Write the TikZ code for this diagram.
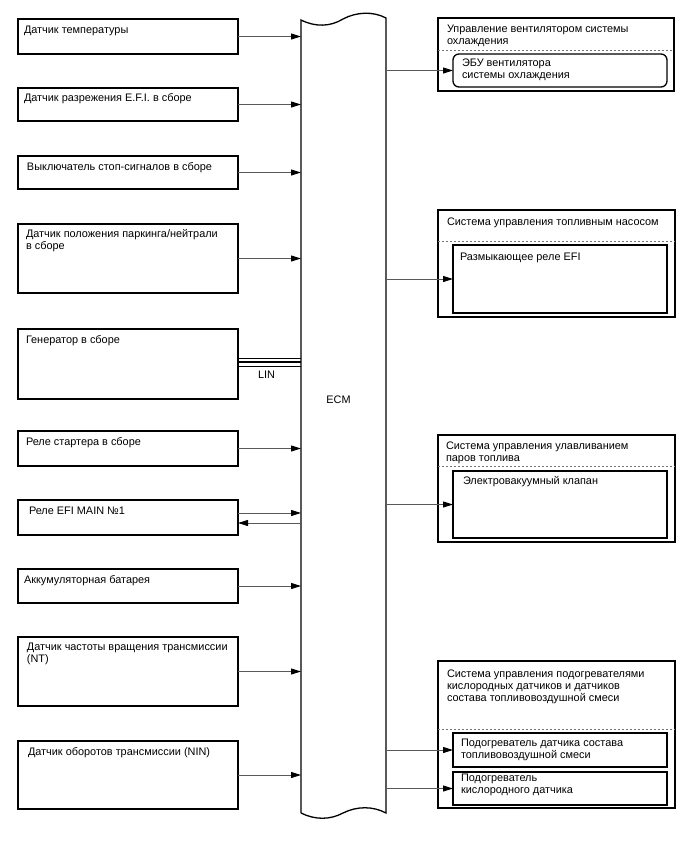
\documentclass[tikz,border=0pt]{standalone}
\usepackage{fontspec}
\setmainfont{Liberation Sans}
\usetikzlibrary{arrows.meta,calc}
\begin{document}
\begin{tikzpicture}[x=1pt,y=-1pt,
 box/.style={draw=black, line width=1.3pt, anchor=north west, inner sep=0pt, outer sep=0pt},
 lbox/.style={box, minimum width=220pt},
 txt/.style={anchor=north west, inner sep=0pt, outer sep=0pt, font=\fontsize{10.9}{12}\selectfont, align=left, execute at begin node=\strut},
 conn/.style={draw=black!65, line width=1pt, -{Triangle[length=10pt,width=6pt,fill=black,color=black]}},
 sepline/.style={draw=black!55, line width=0.9pt, dash pattern=on 2pt off 2pt},
 ecmline/.style={draw=black, line width=1.3pt},
 lbl/.style={anchor=base, inner sep=0pt, font=\fontsize{10.9}{12}\selectfont}
]
\useasboundingbox (0,0) rectangle (688,852);

% ECM
\node[inner sep=0pt, outer sep=0pt, minimum width=85pt, minimum height=793pt, anchor=north west] (ecm) at (301,20) {};
\draw[ecmline] (301,813) -- (301,20) .. controls (315,27) and (330,27) .. (343,19) .. controls (356,12) and (373,11) .. (386,18) -- (386,813) .. controls (373,806) and (357,806) .. (343,813) .. controls (330,820) and (315,820) .. (301,813);
\node[lbl] (ecmtxt) at (338.5,403) {ECM};

% left boxes
\node[lbox, minimum height=35pt] (b1) at (18,19) {};
\node[lbox, minimum height=33pt] (b2) at (18,88) {};
\node[lbox, minimum height=33pt] (b3) at (18,156) {};
\node[lbox, minimum height=69pt] (b4) at (18,224) {};
\node[lbox, minimum height=70pt] (b5) at (18,329) {};
\node[lbox, minimum height=35pt] (b6) at (18,431) {};
\node[lbox, minimum height=35pt] (b7) at (18,500) {};
\node[lbox, minimum height=34pt] (b8) at (18,569) {};
\node[lbox, minimum height=69pt] (b9) at (18,637) {};
\node[lbox, minimum height=68pt] (b10) at (18,741) {};

\node[txt] (t1) at (24,24.6) {Датчик температуры};
\node[txt] (t2) at (24,92.6) {Датчик разрежения E.F.I. в сборе};
\node[txt] (t3) at (27,161.6) {Выключатель стоп-сигналов в сборе};
\node[txt] (t4) at (26,229.6) {Датчик положения паркинга/нейтрали\\в сборе};
\node[txt] (t5) at (26,334.6) {Генератор в сборе};
\node[txt] (t6) at (26,436.6) {Реле стартера в сборе};
\node[txt] (t7) at (29,505.6) {Реле EFI MAIN №1};
\node[txt] (t8) at (24,574.6) {Аккумуляторная батарея};
\node[txt] (t9) at (27,642.6) {Датчик частоты вращения трансмиссии\\(NT)};
\node[txt] (t10) at (28,746.6) {Датчик оборотов трансмиссии (NIN)};

% left connectors
\foreach \b in {b1,b2,b3,b4,b6,b8,b9,b10}
  \draw[conn] (\b.east) -- (\b.east -| ecm.west);
\coordinate (b7a) at ($(b7.east)+(0,-4.5)$);
\coordinate (b7b) at ($(b7.east)+(0,5.5)$);
\draw[conn] (b7a) -- (b7a -| ecm.west);
\draw[conn] (b7b -| ecm.west) -- (b7b);

% LIN bus
\coordinate (lin1) at ($(b5.east)+(0,-5.7)$);
\coordinate (lin2) at ($(b5.east)+(0,-1.7)$);
\coordinate (lin3) at ($(b5.east)+(0,2.7)$);
\draw[black, line width=0.9pt] (lin1) -- (lin1 -| ecm.west);
\draw[black, line width=2.2pt] (lin2) -- (lin2 -| ecm.west);
\draw[black, line width=0.9pt] (lin3) -- (lin3 -| ecm.west);
\node[lbl] (lin) at (266.5,378) {LIN};

% right outer boxes
\node[box, minimum width=236pt, minimum height=73pt] (oA) at (438,18) {};
\node[box, minimum width=237pt, minimum height=107pt] (oB) at (438,210) {};
\node[box, minimum width=237pt, minimum height=107pt] (oC) at (438,435) {};
\node[box, minimum width=237pt, minimum height=147pt] (oD) at (438,661) {};

\draw[sepline] (oA.west |- 0,50) -- (oA.east |- 0,50);
\draw[sepline] (oB.west |- 0,241) -- (oB.east |- 0,241);
\draw[sepline] (oC.west |- 0,466) -- (oC.east |- 0,466);
\draw[sepline] (oD.west |- 0,729) -- (oD.east |- 0,729);

% inner boxes
\node[box, rounded corners=6pt, minimum width=214pt, minimum height=33pt] (iA) at (453,54) {};
\node[box, minimum width=214pt, minimum height=68pt] (iB) at (453,245) {};
\node[box, minimum width=214pt, minimum height=67pt] (iC) at (453,471) {};
\node[box, minimum width=214pt, minimum height=34pt] (iD1) at (453,733) {};
\node[box, minimum width=214pt, minimum height=33pt] (iD2) at (453,772) {};

% right texts
\node[txt] (tA) at (447,24.6) {Управление вентилятором системы\\охлаждения};
\node[txt] (tiA) at (462,58.6) {ЭБУ вентилятора\\системы охлаждения};
\node[txt] (tB) at (447,216.6) {Система управления топливным насосом};
\node[txt] (tiB) at (460,251.6) {Размыкающее реле EFI};
\node[txt] (tC) at (446,441.6) {Система управления улавливанием\\паров топлива};
\node[txt] (tiC) at (463,475.6) {Электровакуумный клапан};
\node[txt] (tD) at (447,669.6) {Система управления подогревателями\\кислородных датчиков и датчиков\\состава топливовоздушной смеси};
\node[txt] (tiD1) at (461,738.6) {Подогреватель датчика состава\\топливовоздушной смеси};
\node[txt] (tiD2) at (461,773.6) {Подогреватель\\кислородного датчика};

% right connectors
\foreach \b in {iA,iB,iC,iD1,iD2}
  \draw[conn] (ecm.east |- \b.west) -- (\b.west);
\end{tikzpicture}
\end{document}
